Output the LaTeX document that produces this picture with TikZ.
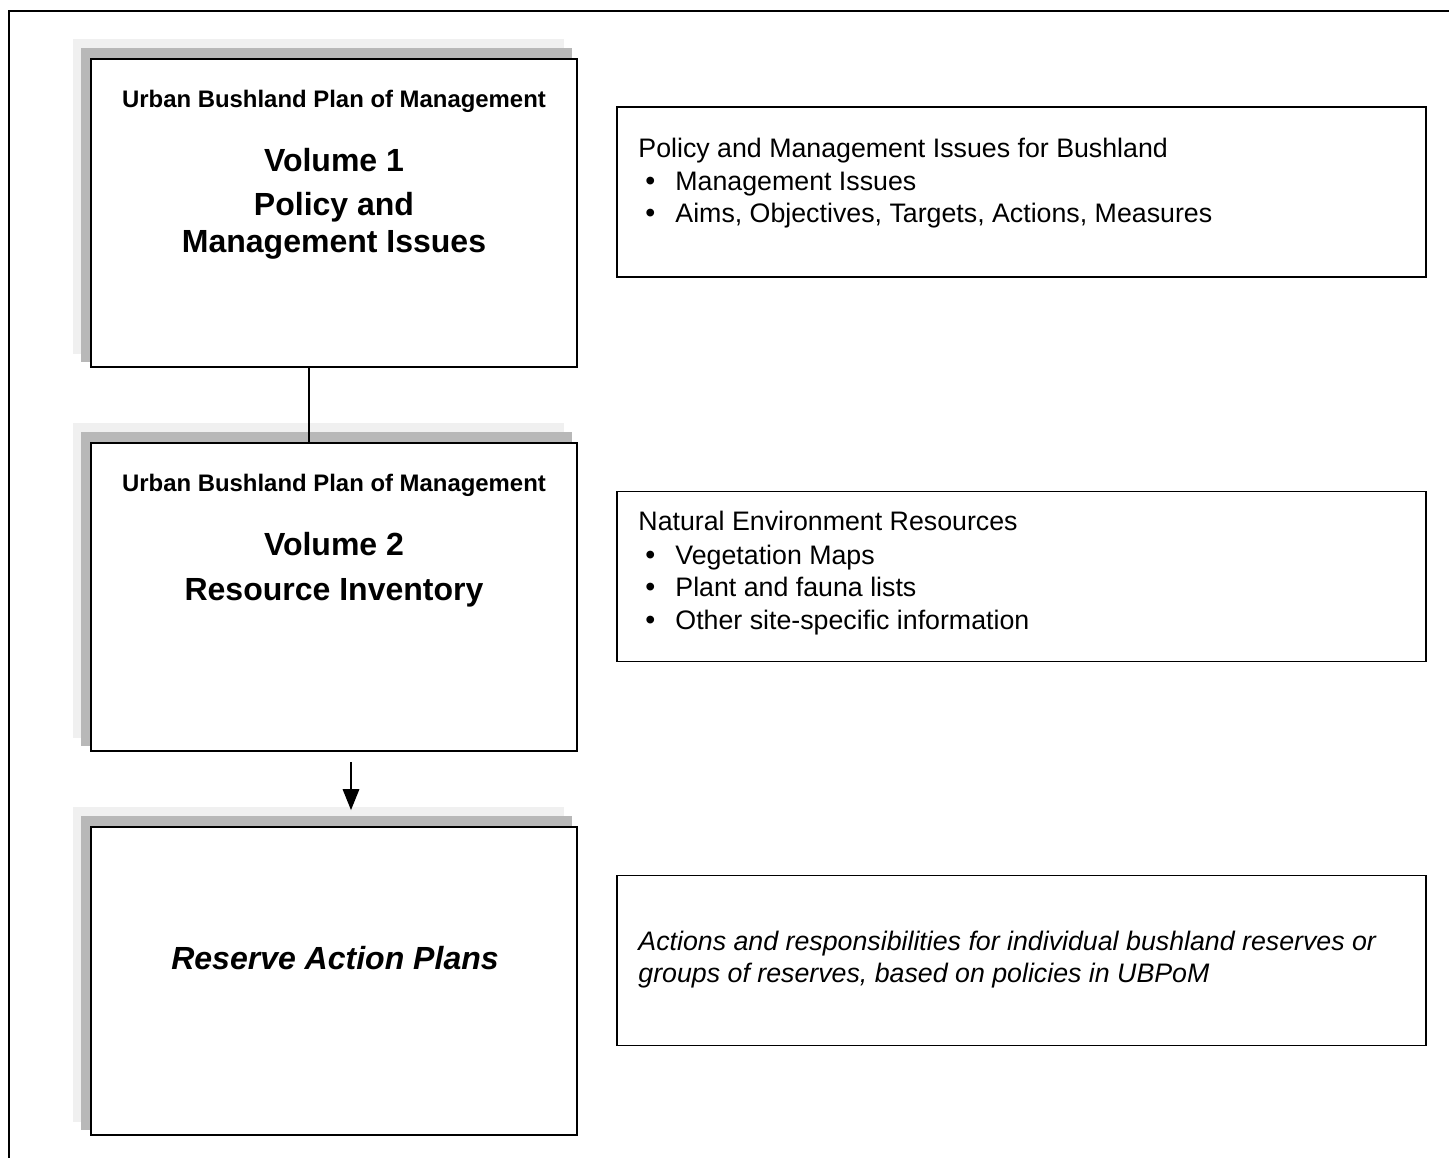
\documentclass[tikz,border=0pt]{standalone}
\usepackage{fontspec}
\setmainfont{Liberation Sans}
\usetikzlibrary{arrows.meta,backgrounds}
\newcommand{\pxunit}{0.456pt}
\definecolor{shadelight}{HTML}{F0F0F0}
\definecolor{shadedark}{HTML}{B8B8B8}

\begin{document}
\begin{tikzpicture}[x=\pxunit, y=-\pxunit,
  volbox/.style={draw, line width=0.9pt, fill=white, minimum width=221.6pt, minimum height=140.4pt, inner sep=0pt},
  infobox/.style={draw, line width=0.7pt, minimum width=368.9pt, minimum height=77.5pt, inner sep=0pt},
  headtext/.style={font=\fontsize{10.9}{13}\selectfont\bfseries, anchor=base, inner sep=0pt},
  voltext/.style={font=\fontsize{14.6}{17}\selectfont\bfseries, anchor=base, inner sep=0pt},
  itemtext/.style={font=\fontsize{12.2}{14}\selectfont, anchor=base west, inner sep=0pt},
  bulletmark/.style={font=\fontsize{13}{14}\selectfont, anchor=base west, inner sep=0pt}]
\useasboundingbox (0,0) rectangle (1449,1158);

% frame
\draw[line width=0.9pt] (9,1170) -- (9,11) -- (1460,11);

% volumes
\node[volbox] (vol1) at (334,213) {};
\node[volbox] (vol2) at (334,597) {};
\node[volbox] (vol3) at (334,981) {};

\begin{scope}[on background layer]
\foreach \b in {vol1,vol2,vol3} {
  \fill[shadelight] ([shift={(-17,-19)}]\b.north west) rectangle ([shift={(-14,-14)}]\b.south east);
  \fill[shadedark] ([shift={(-9,-10)}]\b.north west) rectangle ([shift={(-6,-6)}]\b.south east);
}
\end{scope}

\node[headtext] (head1) at (334,107) {Urban Bushland Plan of Management};
\node[voltext] (title1a) at (334,171) {Volume 1};
\node[voltext] (title1b) at (334,215) {Policy and};
\node[voltext] (title1c) at (334,252) {Management Issues};

\node[headtext] (head2) at (334,491) {Urban Bushland Plan of Management};
\node[voltext] (title2a) at (334,555) {Volume 2};
\node[voltext] (title2b) at (334,600) {Resource Inventory};

\node[voltext] (title3) at (335,969) {\itshape Reserve Action Plans};

% descriptions
\node[infobox] (info1) at (1021.5,192) {};
\node[infobox] (info2) at (1021.5,576.5) {};
\node[infobox] (info3) at (1021.5,960.5) {};

\node[itemtext] (info1t) at (638,157) {Policy and Management Issues for Bushland};
\node[bulletmark] (info1d1) at (645,190) {\textbullet};
\node[itemtext] (info1i1) at (675,190) {Management Issues};
\node[bulletmark] (info1d2) at (645,222) {\textbullet};
\node[itemtext] (info1i2) at (675,222) {Aims, Objectives, Targets, Actions, Measures};

\node[itemtext] (info2t) at (638,530) {Natural Environment Resources};
\node[bulletmark] (info2d1) at (645,564) {\textbullet};
\node[itemtext] (info2i1) at (675,564) {Vegetation Maps};
\node[bulletmark] (info2d2) at (645,596) {\textbullet};
\node[itemtext] (info2i2) at (675,596) {Plant and fauna lists};
\node[bulletmark] (info2d3) at (645,629) {\textbullet};
\node[itemtext] (info2i3) at (675,629) {Other site-specific information};

\node[itemtext] (info3a) at (638,950) {\itshape Actions and responsibilities for individual bushland reserves or};
\node[itemtext] (info3b) at (638,982) {\itshape groups of reserves, based on policies in UBPoM};

% links
\coordinate (arrowtop) at (351,762);
\path[draw,line width=0.9pt,-] ([shift={(-25,0)}]vol1.south) -- ([shift={(-25,0)}]vol2.north);
\path[draw,line width=0.7pt,-{Triangle[width=7.5pt,length=9.5pt]}] (arrowtop) -- ([shift={(17,-16)}]vol3.north);
\end{tikzpicture}
\end{document}
